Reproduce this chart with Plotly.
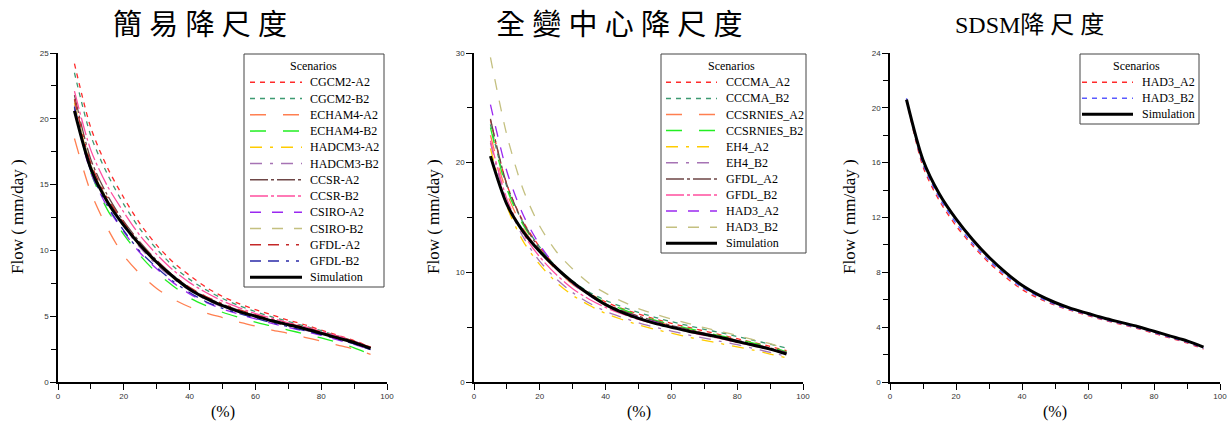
import plotly.graph_objects as go

# ---------------- data ----------------
exceed = [5, 10, 15, 20, 25, 30, 35, 40, 45, 50, 55, 60, 65, 70, 75, 80, 85, 90, 95]

simulation = [20.6, 16.2, 13.7, 11.9, 10.4, 9.1, 8.0, 7.05, 6.35, 5.8, 5.35, 5.0, 4.65, 4.35, 4.05, 3.7, 3.35, 3.0, 2.55]

# panel 1 : 簡易降尺度
p1_names = ["CGCM2-A2", "CGCM2-B2", "ECHAM4-A2", "ECHAM4-B2", "HADCM3-A2", "HADCM3-B2",
            "CCSR-A2", "CCSR-B2", "CSIRO-A2", "CSIRO-B2", "GFDL-A2", "GFDL-B2"]
cgcm2_a2 = [24.2, 19.3, 16.3, 14.0, 12.0, 10.4, 9.1, 8.1, 7.2, 6.5, 5.95, 5.5, 5.1, 4.7, 4.35, 3.95, 3.55, 3.15, 2.65]
cgcm2_b2 = [23.5, 18.7, 15.8, 13.5, 11.6, 10.1, 8.8, 7.8, 7.0, 6.35, 5.8, 5.35, 4.95, 4.6, 4.25, 3.9, 3.5, 3.1, 2.6]
echam4_a2 = [18.5, 14.4, 11.7, 9.6, 8.2, 7.1, 6.3, 5.7, 5.25, 4.9, 4.55, 4.25, 3.95, 3.7, 3.4, 3.1, 2.8, 2.5, 2.1]
echam4_b2 = [20.8, 15.9, 13.1, 11.2, 9.6, 8.3, 7.3, 6.4, 5.8, 5.3, 4.9, 4.55, 4.25, 3.95, 3.65, 3.35, 3.0, 2.6, 2.1]
hadcm3_a2 = [21.2, 16.4, 13.8, 11.9, 10.3, 9.0, 7.9, 7.0, 6.3, 5.75, 5.3, 4.95, 4.6, 4.3, 4.0, 3.65, 3.3, 2.95, 2.5]
hadcm3_b2 = [21.0, 16.3, 13.7, 11.8, 10.2, 8.9, 7.85, 6.95, 6.25, 5.7, 5.25, 4.9, 4.55, 4.25, 3.95, 3.6, 3.25, 2.9, 2.45]
ccsr_a2 = [21.8, 16.9, 14.2, 12.2, 10.6, 9.25, 8.1, 7.15, 6.45, 5.9, 5.45, 5.05, 4.7, 4.4, 4.1, 3.75, 3.4, 3.05, 2.6]
ccsr_b2 = [22.1, 17.6, 14.9, 12.9, 11.1, 9.7, 8.5, 7.55, 6.8, 6.15, 5.65, 5.2, 4.85, 4.5, 4.2, 3.85, 3.5, 3.1, 2.6]
csiro_a2 = [20.7, 15.9, 13.3, 11.4, 9.8, 8.6, 7.55, 6.7, 6.05, 5.55, 5.15, 4.8, 4.45, 4.15, 3.85, 3.55, 3.2, 2.85, 2.45]
csiro_b2 = [21.4, 16.5, 13.9, 12.0, 10.4, 9.1, 8.0, 7.05, 6.35, 5.8, 5.35, 5.0, 4.65, 4.35, 4.05, 3.7, 3.35, 3.0, 2.55]
gfdl_a2 = [21.5, 16.6, 14.0, 12.1, 10.5, 9.2, 8.1, 7.2, 6.5, 5.95, 5.5, 5.1, 4.75, 4.45, 4.15, 3.8, 3.45, 3.1, 2.65]
gfdl_b2 = [20.9, 16.0, 13.4, 11.5, 9.9, 8.7, 7.65, 6.8, 6.1, 5.6, 5.2, 4.85, 4.5, 4.2, 3.9, 3.6, 3.25, 2.9, 2.45]

# panel 2 : 全變中心降尺度
p2_names = ["CCCMA_A2", "CCCMA_B2", "CCSRNIES_A2", "CCSRNIES_B2", "EH4_A2", "EH4_B2",
            "GFDL_A2", "GFDL_B2", "HAD3_A2", "HAD3_B2"]
cccma_a2 = [23.9, 18.0, 14.6, 12.3, 10.5, 9.1, 8.1, 7.3, 6.7, 6.2, 5.75, 5.35, 5.0, 4.65, 4.3, 3.95, 3.6, 3.25, 2.85]
cccma_b2 = [23.5, 17.8, 14.5, 12.3, 10.5, 9.2, 8.2, 7.45, 6.85, 6.35, 5.9, 5.5, 5.15, 4.8, 4.5, 4.15, 3.8, 3.45, 3.1]
ccsrnies_a2 = [22.5, 17.2, 14.0, 11.9, 10.2, 8.9, 7.9, 7.1, 6.5, 6.0, 5.55, 5.15, 4.8, 4.45, 4.15, 3.8, 3.45, 3.1, 2.7]
ccsrnies_b2 = [23.2, 17.6, 14.3, 12.1, 10.4, 9.1, 8.05, 7.25, 6.65, 6.1, 5.65, 5.25, 4.9, 4.55, 4.2, 3.9, 3.55, 3.2, 2.75]
eh4_a2 = [21.3, 16.0, 12.8, 10.7, 9.1, 7.9, 7.0, 6.25, 5.7, 5.2, 4.8, 4.45, 4.1, 3.8, 3.5, 3.2, 2.9, 2.55, 2.2]
eh4_b2 = [21.8, 16.4, 13.2, 11.0, 9.4, 8.15, 7.2, 6.45, 5.9, 5.4, 5.0, 4.65, 4.3, 4.0, 3.7, 3.4, 3.05, 2.7, 2.35]
gfdl_a2_c = [24.0, 18.0, 14.5, 12.1, 10.3, 8.95, 7.9, 7.1, 6.5, 6.0, 5.55, 5.15, 4.8, 4.45, 4.15, 3.8, 3.45, 3.1, 2.7]
gfdl_b2_c = [22.0, 16.7, 13.5, 11.4, 9.8, 8.5, 7.55, 6.8, 6.2, 5.7, 5.3, 4.95, 4.6, 4.25, 3.95, 3.6, 3.3, 2.95, 2.55]
had3_a2_c = [25.3, 19.2, 15.2, 12.5, 10.5, 9.0, 7.9, 7.05, 6.4, 5.9, 5.45, 5.05, 4.7, 4.4, 4.1, 3.75, 3.4, 3.05, 2.6]
had3_b2_c = [29.6, 22.5, 17.5, 14.2, 11.9, 10.3, 9.0, 8.1, 7.35, 6.7, 6.2, 5.75, 5.35, 4.95, 4.6, 4.25, 3.85, 3.5, 3.0]

# panel 3 : SDSM降尺度
p3_names = ["HAD3_A2", "HAD3_B2"]
had3_a2_s = [20.6, 15.7, 13.2, 11.4, 9.95, 8.7, 7.65, 6.75, 6.1, 5.6, 5.2, 4.85, 4.5, 4.2, 3.9, 3.55, 3.2, 2.85, 2.4]
had3_b2_s = [20.7, 15.9, 13.4, 11.6, 10.1, 8.85, 7.8, 6.9, 6.2, 5.65, 5.25, 4.9, 4.55, 4.25, 3.95, 3.6, 3.25, 2.9, 2.45]

titles = ["簡 易 降 尺 度", "全 變 中 心 降 尺 度", "SDSM降 尺 度"]
y_ranges = [25, 30, 24]
y_dticks = [5, 10, 4]
x_ticks = [0, 20, 40, 60, 80, 100]

# ---------------- styles ----------------
p1_series = [cgcm2_a2, cgcm2_b2, echam4_a2, echam4_b2, hadcm3_a2, hadcm3_b2,
             ccsr_a2, ccsr_b2, csiro_a2, csiro_b2, gfdl_a2, gfdl_b2]
p1_colors = ["#ff2a2a", "#3d9a72", "#ff7f50", "#22ee22", "#ffcc00", "#a673b4",
             "#6e4646", "#ff4f9f", "#9a28f0", "#c4c080", "#c42828", "#2a2aa8"]
p1_dash = ["5px,5px", "5px,5px", "16px,17px", "16px,17px", "12px,8px,3px,8px", "12px,8px,3px,8px",
           "18px,3px,3px,3px", "18px,3px,3px,3px", "11px,11px", "11px,11px",
           "11px,7px,11px,7px,3px,7px,3px,7px", "11px,7px,11px,7px,3px,7px,3px,7px"]

p2_series = [cccma_a2, cccma_b2, ccsrnies_a2, ccsrnies_b2, eh4_a2, eh4_b2,
             gfdl_a2_c, gfdl_b2_c, had3_a2_c, had3_b2_c]
p2_colors = p1_colors[:10]
p2_dash = p1_dash[:10]

p3_series = [had3_a2_s, had3_b2_s]
p3_colors = ["#ff2a2a", "#5a5aff"]
p3_dash = ["5px,5px", "5px,5px"]

serif = "Liberation Serif, Times New Roman, serif"
sans = "Liberation Sans, Arial, sans-serif"

# pixel layout (width 1232, height 423)
W, H = 1232, 423
x_px = [(58, 387), (474, 803), (890, 1220)]
y_px = (53, 382)
# legend boxes: left, right, top, bottom, sample x0, sample x1, text x, row spacing
leg_geo = [(244, 384, 54, 287, 250, 302, 308, 16.25),
           (661, 806, 54, 253, 666, 717, 724, 16.1),
           (1080, 1199, 54, 124, 1082, 1133, 1140, 16.0)]
title_x = [200, 619, 1029]
title_size = [29, 29, 24]


def px(x):
    return x / W


def py(y):
    return (H - y) / H


fig = go.Figure()
shapes = []
annotations = []

panels = [(p1_names, p1_series, p1_colors, p1_dash),
          (p2_names, p2_series, p2_colors, p2_dash),
          (p3_names, p3_series, p3_colors, p3_dash)]

for i, (names, series, colors, dashes) in enumerate(panels):
    xa = "x" if i == 0 else f"x{i+1}"
    ya = "y" if i == 0 else f"y{i+1}"
    for n, s, c, d in zip(names, series, colors, dashes):
        fig.add_trace(go.Scatter(x=exceed, y=s, name=n, mode="lines",
                                 line=dict(color=c, width=1.3, dash=d, shape="spline", smoothing=0.8),
                                 xaxis=xa, yaxis=ya, showlegend=False))
    fig.add_trace(go.Scatter(x=exceed, y=simulation, name="Simulation", mode="lines",
                             line=dict(color="black", width=3, shape="spline", smoothing=0.8),
                             xaxis=xa, yaxis=ya, showlegend=False))

    # ---- legend box (drawn in paper coordinates) ----
    l, r, t, b, sx0, sx1, tx, dy = leg_geo[i]
    shapes.append(dict(type="rect", xref="paper", yref="paper",
                       x0=px(l), x1=px(r), y0=py(b), y1=py(t),
                       line=dict(color="#444", width=1), fillcolor="white", layer="above"))
    annotations.append(dict(text="Scenarios", xref="paper", yref="paper",
                            x=px((sx0 + r) / 2 - 4), y=py(t + 12.5), xanchor="center", yanchor="middle",
                            showarrow=False, font=dict(family=serif, size=12, color="black")))
    items = list(zip(names, colors, dashes, [1.3] * len(names))) + [("Simulation", "black", "solid", 3)]
    for k, (n, c, d, w) in enumerate(items):
        yy = t + 28.3 + k * dy
        shapes.append(dict(type="line", xref="paper", yref="paper",
                           x0=px(sx0), x1=px(sx1), y0=py(yy), y1=py(yy),
                           line=dict(color=c, width=w if w > 2 else 1.5, dash=d), layer="above"))
        annotations.append(dict(text=n, xref="paper", yref="paper",
                                x=px(tx), y=py(yy), xanchor="left", yanchor="middle",
                                showarrow=False, font=dict(family=serif, size=12, color="black")))

layout = dict(width=W, height=H, margin=dict(l=0, r=0, t=0, b=0, autoexpand=False),
              paper_bgcolor="white", plot_bgcolor="white", showlegend=False)

for i in range(3):
    sx = "" if i == 0 else str(i + 1)
    x0, x1 = x_px[i]
    layout["xaxis" + sx] = dict(
        domain=[px(x0), px(x1)], range=[0, 100], anchor="y" + sx, automargin=False,
        tickvals=x_ticks, ticks="outside", ticklen=6, tickwidth=1, tickcolor="black",
        minor=dict(dtick=10, tick0=0, ticks="outside", ticklen=5, tickcolor="black", showgrid=False),
        showline=True, linecolor="black", linewidth=1.5, showgrid=False, zeroline=False,
        tickfont=dict(family=sans, size=8, color="#333"))
    layout["yaxis" + sx] = dict(
        domain=[py(y_px[1]), py(y_px[0])], range=[0, y_ranges[i]], anchor="x" + sx, automargin=False,
        dtick=y_dticks[i], tick0=0, ticks="outside", ticklen=6, tickwidth=1, tickcolor="black",
        minor=dict(dtick=y_dticks[i] / 2, tick0=0, ticks="outside", ticklen=5, tickcolor="black", showgrid=False),
        showline=True, linecolor="black", linewidth=1.5, showgrid=False, zeroline=False,
        tickfont=dict(family=sans, size=8, color="#333"))
    annotations.append(dict(text="Flow ( mm/day )", textangle=-90, xref="paper", yref="paper",
                            x=px(x0 - 40), y=py(217), xanchor="center", yanchor="middle", showarrow=False,
                            font=dict(family=serif, size=17, color="black")))
    annotations.append(dict(text="(%)", xref="paper", yref="paper",
                            x=px((x0 + x1) / 2), y=py(412), xanchor="center", yanchor="middle", showarrow=False,
                            font=dict(family=serif, size=16, color="black")))
    annotations.append(dict(text=titles[i], xref="paper", yref="paper",
                            x=px(title_x[i]), y=py(25), xanchor="center", yanchor="middle", showarrow=False,
                            font=dict(family="Liberation Serif, Noto Sans CJK TC", size=title_size[i], color="black")))

layout["annotations"] = annotations
layout["shapes"] = shapes
fig.update_layout(**layout)

fig.write_html("out.html", config={"displayModeBar": False},
               post_script="document.body.style.margin='0';document.body.style.overflow='hidden';")
